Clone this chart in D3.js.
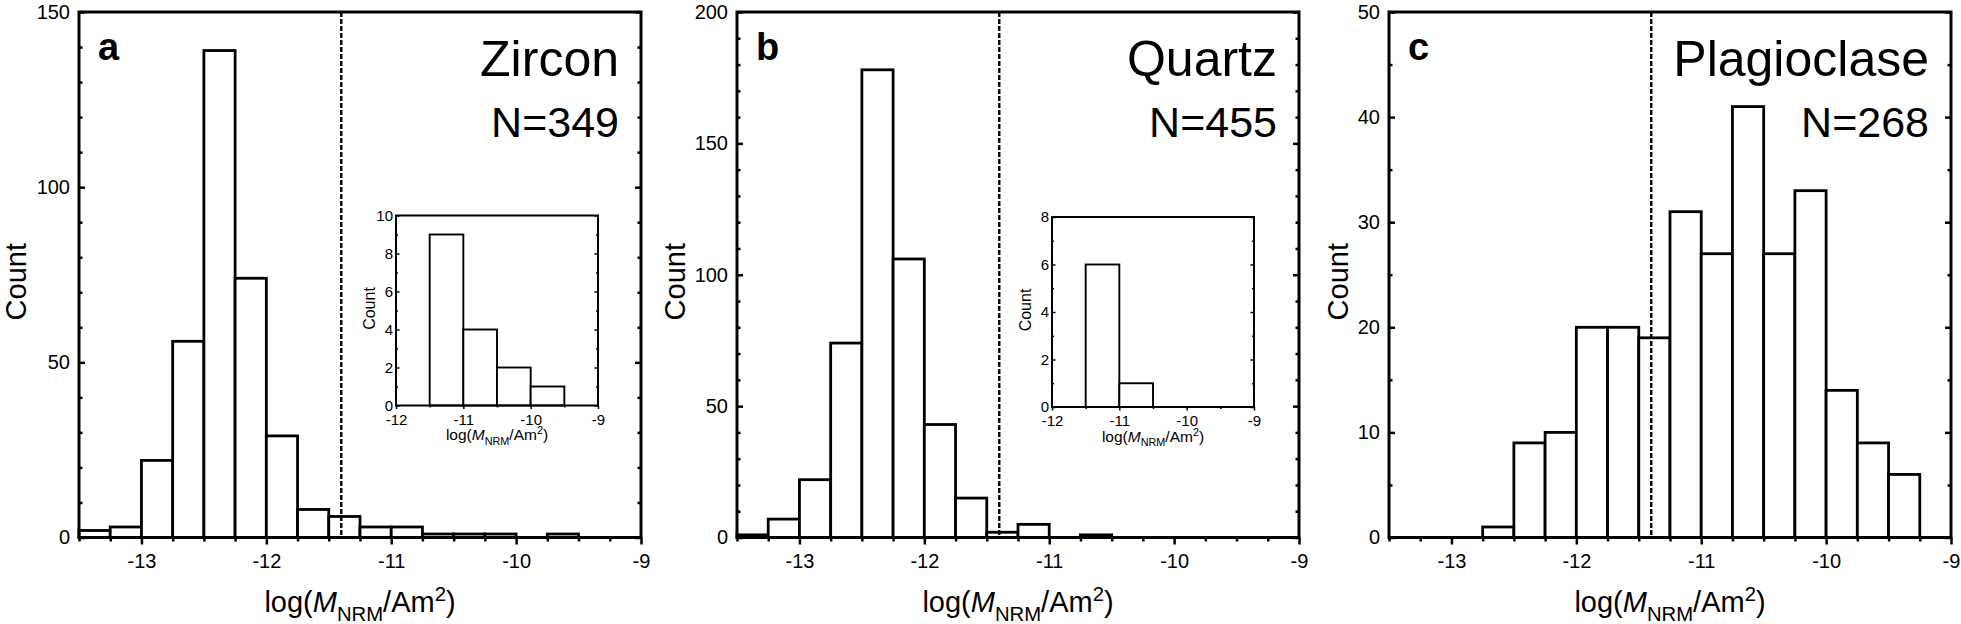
<!DOCTYPE html>
<html>
<head>
<meta charset="utf-8"/>
<script src="https://cdn.jsdelivr.net/npm/d3@7"></script>
<title>NRM histograms</title>
<style>
body { margin: 0; background: #fff; }
text { font-family: "Liberation Sans", Arial, sans-serif; fill: #000; }
</style>
</head>
<body>
<svg width="1961" height="624"></svg>
<script>
// bin lower edges, width 0.25
var bins = [-13.5, -13.25, -13, -12.75, -12.5, -12.25, -12, -11.75, -11.5,
            -11.25, -11, -10.75, -10.5, -10.25, -10, -9.75, -9.5, -9.25];
var binWidth = 0.25;

var zirconCounts = [2, 3, 22, 56, 139, 74, 29, 8, 6, 3, 3, 1, 1, 1, 0, 1, 0, 0];
var quartzCounts = [1, 7, 22, 74, 178, 106, 43, 15, 2, 5, 0, 1, 0, 0, 0, 0, 0, 0];
var plagCounts   = [0, 0, 0, 1, 9, 10, 20, 20, 19, 31, 27, 41, 27, 33, 14, 9, 6, 0];

// inset bins, width 0.5
var insetBins = [-11.5, -11, -10.5, -10];
var insetWidth = 0.5;
var zirconInset = [9, 4, 2, 1];
var quartzInset = [6, 1, 0, 0];

var xTicks = [-13, -12, -11, -10, -9];
var insetXTicks = [-12, -11, -10, -9];
var cutoff = -11.4;

var panels = [
  {letter: "a", name: "Zircon", n: "N=349", counts: zirconCounts, yMax: 150, yTicks: [0, 50, 100, 150], yMinor: 10,
   inset: {counts: zirconInset, yMax: 10, yTicks: [0, 2, 4, 6, 8, 10]}, titleGap: 53},
  {letter: "b", name: "Quartz", n: "N=455", counts: quartzCounts, yMax: 200, yTicks: [0, 50, 100, 150, 200], yMinor: 10,
   inset: {counts: quartzInset, yMax: 8, yTicks: [0, 2, 4, 6, 8]}, titleGap: 52.5},
  {letter: "c", name: "Plagioclase", n: "N=268", counts: plagCounts, yMax: 50, yTicks: [0, 10, 20, 30, 40, 50], yMinor: 5,
   inset: null, titleGap: 41}
];

var svg = d3.select("svg");
var lefts = [79, 737, 1389],
    plotTop = 12,
    pw = 562,
    ph = 525.5;

var fmt = function(d) { return String(d); }; // plain hyphen minus like the original

function styleAxis(g, width, fontSize) {
  g.select(".domain").remove();
  g.selectAll("line").attr("stroke", "#000").attr("stroke-width", width);
  g.selectAll("text").attr("font-size", fontSize).attr("font-family", null).attr("fill", "#000");
}

function xLabel(sel, size) {
  var sub = size * 0.7;
  sel.attr("font-size", size).attr("text-anchor", "middle");
  sel.append("tspan").text("log(");
  sel.append("tspan").attr("font-style", "italic").text("M");
  sel.append("tspan").attr("font-size", sub).attr("dy", size * 0.3).text("NRM");
  sel.append("tspan").attr("dy", -size * 0.3).text("/Am");
  sel.append("tspan").attr("font-size", sub).attr("dy", -size * 0.38).text("2");
  sel.append("tspan").attr("dy", size * 0.38).text(")");
}

function bars(g, x, y, edges, w, counts, sw) {
  g.selectAll("rect.bar")
    .data(edges.map(function(e, i) { return {x0: e, c: counts[i]}; }).filter(function(d) { return d.c > 0; }))
    .enter().append("rect")
      .attr("class", "bar")
      .attr("x", function(d) { return x(d.x0); })
      .attr("width", function(d) { return x(d.x0 + w) - x(d.x0); })
      .attr("y", function(d) { return y(d.c); })
      .attr("height", function(d) { return y(0) - y(d.c); })
      .attr("fill", "#fff")
      .attr("stroke", "#000")
      .attr("stroke-width", sw);
}

panels.forEach(function(p, i) {
  var g = svg.append("g").attr("transform", "translate(" + lefts[i] + "," + plotTop + ")");
  var x = d3.scaleLinear().domain([-13.5, -9]).range([0, pw]);
  var y = d3.scaleLinear().domain([0, p.yMax]).range([ph, 0]);

  bars(g, x, y, bins, binWidth, p.counts, 2.8);

  // cutoff line
  g.append("line")
    .attr("x1", x(cutoff)).attr("x2", x(cutoff))
    .attr("y1", 0).attr("y2", ph)
    .attr("stroke", "#000").attr("stroke-width", 2.4)
    .attr("stroke-dasharray", "5,2");

  g.append("rect")
    .attr("width", pw).attr("height", ph)
    .attr("fill", "none").attr("stroke", "#000").attr("stroke-width", 3);

  // x axis
  var minorX = d3.range(-13.5, -8.99, 0.25).filter(function(v) { return xTicks.indexOf(v) < 0; });
  g.append("g").attr("transform", "translate(0," + ph + ")")
    .call(d3.axisBottom(x).tickValues(minorX).tickSize(4).tickFormat(""))
    .call(styleAxis, 2.5, 20);
  g.append("g").attr("transform", "translate(0," + ph + ")")
    .call(d3.axisBottom(x).tickValues(xTicks).tickSize(7).tickPadding(9).tickFormat(fmt))
    .call(styleAxis, 2.5, 20);

  // y axes, ticks inside
  var minorY = d3.range(0, p.yMax + 0.1, p.yMinor).filter(function(v) { return p.yTicks.indexOf(v) < 0; });
  g.append("g")
    .call(d3.axisLeft(y).tickValues(p.yTicks).tickSize(-6).tickPadding(9).tickFormat(fmt))
    .call(styleAxis, 2.5, 20);
  g.append("g")
    .call(d3.axisLeft(y).tickValues(minorY).tickSize(-3.5).tickFormat(""))
    .call(styleAxis, 2.5, 20);
  g.append("g").attr("transform", "translate(" + pw + ",0)")
    .call(d3.axisRight(y).tickValues(p.yTicks).tickSize(-6).tickFormat(""))
    .call(styleAxis, 2.5, 20);
  g.append("g").attr("transform", "translate(" + pw + ",0)")
    .call(d3.axisRight(y).tickValues(minorY).tickSize(-3.5).tickFormat(""))
    .call(styleAxis, 2.5, 20);

  // titles
  g.append("text").attr("x", pw / 2).attr("y", 600).call(xLabel, 29);
  g.append("text")
    .attr("transform", "translate(" + (-p.titleGap) + "," + (ph / 2 + 7) + ") rotate(-90)")
    .attr("text-anchor", "middle").attr("font-size", 29).text("Count");

  g.append("text").attr("x", 19).attr("y", 47.5)
    .attr("font-size", 38).attr("font-weight", "bold").text(p.letter);
  g.append("text").attr("x", pw - 22).attr("y", 63.5)
    .attr("text-anchor", "end").attr("font-size", 50).text(p.name);
  g.append("text").attr("x", pw - 22).attr("y", 125)
    .attr("text-anchor", "end").attr("font-size", 43).text(p.n);

  if (p.inset) {
    var iw = 202, ih = 190;
    var ig = g.append("g").attr("transform", "translate(" + (i === 0 ? 317 : 315) + "," + (i === 0 ? 203.5 : 205) + ")");
    var ix = d3.scaleLinear().domain([-12, -9]).range([0, iw]);
    var iy = d3.scaleLinear().domain([0, p.inset.yMax]).range([ih, 0]);

    bars(ig, ix, iy, insetBins, insetWidth, p.inset.counts, 1.9);
    ig.append("rect")
      .attr("width", iw).attr("height", ih)
      .attr("fill", "none").attr("stroke", "#000").attr("stroke-width", 2);

    ig.append("g").attr("transform", "translate(0," + ih + ")")
      .call(d3.axisBottom(ix).tickValues([-11.5, -10.5, -9.5]).tickSize(2).tickFormat(""))
      .call(styleAxis, 1.5, 15);
    ig.append("g").attr("transform", "translate(0," + ih + ")")
      .call(d3.axisBottom(ix).tickValues(insetXTicks).tickSize(3.5).tickPadding(5).tickFormat(fmt))
      .call(styleAxis, 1.5, 15);

    var iMinor = d3.range(1, p.inset.yMax, 2);
    ig.append("g")
      .call(d3.axisLeft(iy).tickValues(p.inset.yTicks).tickSize(-3.5).tickPadding(3).tickFormat(fmt))
      .call(styleAxis, 1.5, 15);
    ig.append("g")
      .call(d3.axisLeft(iy).tickValues(iMinor).tickSize(-2).tickFormat(""))
      .call(styleAxis, 1.5, 15);
    ig.append("g").attr("transform", "translate(" + iw + ",0)")
      .call(d3.axisRight(iy).tickValues(p.inset.yTicks).tickSize(-3.5).tickFormat(""))
      .call(styleAxis, 1.5, 15);
    ig.append("g").attr("transform", "translate(" + iw + ",0)")
      .call(d3.axisRight(iy).tickValues(iMinor).tickSize(-2).tickFormat(""))
      .call(styleAxis, 1.5, 15);

    ig.append("text").attr("x", iw / 2).attr("y", ih + 34.5).call(xLabel, 15.5);
    ig.append("text")
      .attr("transform", "translate(-21.5," + (ih / 2 - 2) + ") rotate(-90)")
      .attr("text-anchor", "middle").attr("font-size", 16).text("Count");
  }
});
</script>
</body>
</html>
